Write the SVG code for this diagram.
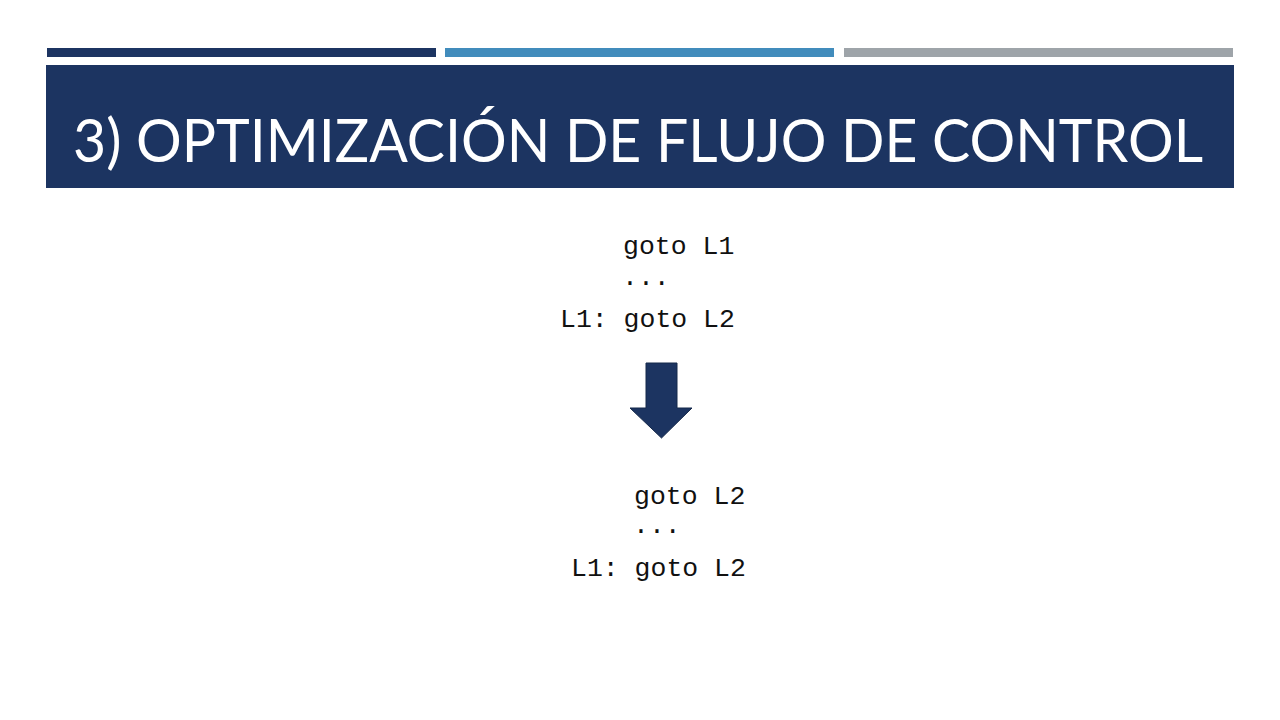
<svg xmlns="http://www.w3.org/2000/svg" width="1280" height="720" viewBox="0 0 1280 720">
  <style>
    .code { font-family: "Liberation Mono", "DejaVu Sans Mono", monospace; font-size: 26.5px; fill: #111111; }
    .title { font-family: "Lato", "Open Sans", "Liberation Sans", sans-serif; font-size: 60px; fill: #ffffff; }
  </style>
  <rect x="0" y="0" width="1280" height="720" fill="#ffffff"/>
  <g id="header-bars">
    <rect x="47" y="48" width="389" height="9" fill="#1c3461"/>
    <rect x="445" y="48" width="389" height="9" fill="#418cbc"/>
    <rect x="844" y="48" width="389" height="9" fill="#9ea4a9"/>
  </g>
  <g id="title">
    <rect x="46" y="65" width="1188" height="123" fill="#1c3461"/>
    <text class="title" x="73" y="162" textLength="1130" lengthAdjust="spacingAndGlyphs">3) OPTIMIZACIÓN DE FLUJO DE CONTROL</text>
  </g>
  <g id="code-before">
    <text class="code" x="623" y="254">goto L1</text>
    <text class="code" x="622" y="285">...</text>
    <text class="code" x="560" y="327">L1: goto L2</text>
  </g>
  <g id="connectors">
    <polygon points="646,363 677,363 677,408 692,408 661.5,438 630,408 646,408" fill="#1c3461" stroke="#15294a" stroke-width="1"/>
  </g>
  <g id="code-after">
    <text class="code" x="634" y="504">goto L2</text>
    <text class="code" x="633" y="533">...</text>
    <text class="code" x="571" y="576">L1: goto L2</text>
  </g>
</svg>
